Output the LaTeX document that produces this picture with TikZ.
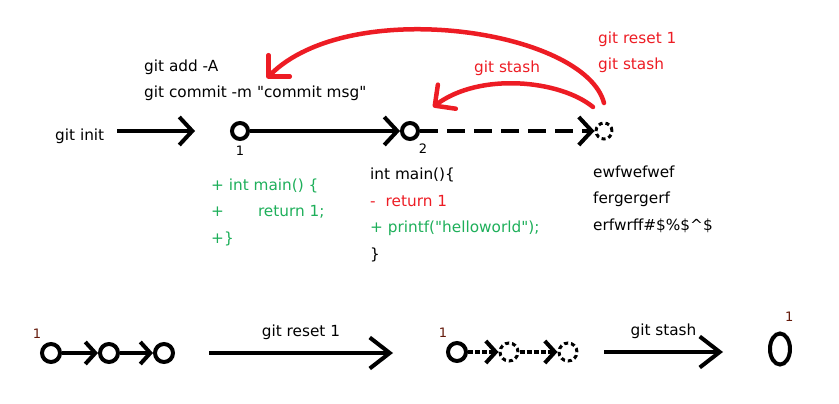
\documentclass[tikz,border=0pt]{standalone}
\usepackage{fontspec}
\setmainfont{DejaVu Sans}[Ligatures=TeXOff]
\usetikzlibrary{arrows.meta,shapes.geometric}
\definecolor{paintred}{RGB}{237,28,36}
\definecolor{addgreen}{RGB}{30,175,90}
\definecolor{numbrown}{RGB}{100,25,10}
\tikzset{
    commit/.style={circle, draw, line width=4pt, minimum size=16pt, inner sep=0pt},
    ghost/.style={commit, line width=3pt, dash pattern=on 4pt off 3pt},
    txt/.style={anchor=base west, inner sep=0pt, align=left,
    	font=\fontsize{15.3}{26.5}\selectfont},
    cmd/.style={inner sep=0pt, font=\fontsize{15.3}{18}\selectfont},
    num/.style={inner sep=0pt, font=\fontsize{13}{13}\selectfont}
}
\tikzset{
    every edge/.append style={line width=4pt}
}
\tikzset{
    barb/.style={-{Straight Barb[length=13pt,width=28pt]}},
    smallbarb/.style={-{Straight Barb[length=10pt,width=22pt]}},
    bigbarb/.style={-{Straight Barb[length=20pt,width=31pt]}},
    redarc/.style={paintred, line width=4.5pt, line cap=round,
    	-{Straight Barb[length=15pt,width=30pt,round]}}
}

\begin{document}
\begin{tikzpicture}[x=1pt, y=-1pt]
	\useasboundingbox (0,0) rectangle (839,404);

	% top row (multi-line texts sit on their last baseline)
	\node (init) [txt] at (55,140) {git init};
	\coordinate (initend) at (195,131);
	\node (1) [commit, label={[num, label distance=5pt]below:{1}}] at (240,131) {};
	\node (2) [commit, label={[num, label distance=5pt]-55:{2}}] at (410,131) {};
	\node (3) [ghost] at (604,131) {};

	\draw (init.east |- 1) edge [barb, shorten <=13pt] (initend);
	\draw (1) edge [barb] (2);
	\draw (2) edge [barb, dash pattern=on 18pt off 9pt] (3);

	\node (add) [txt] at (144,98) {git add -A\\git commit -m "commit msg"};
	\node (diff1) [txt, text=addgreen] at (211,243)
		{+ int main() \{\\+\hspace{34pt}return 1;\\+\}};
	\node (diff2) [txt] at (370,259)
		{int main()\{\\\textcolor{paintred}{-\hspace{10pt}return 1}\\
		\textcolor{addgreen}{+ printf("helloworld");}\\\}};
	\node (work) [txt] at (593,230)
		{ewfwefwef\\fergergerf\\erfwrff\#\$\%\$\textasciicircum\$};

	% red arcs
	\node (redcmd) [txt, text=paintred] at (598,70) {git reset 1\\git stash};
	\node (redstash) [txt, text=paintred] at (474,73) {git stash};
	\coordinate (resetfrom) at (604,103);
	\coordinate (resetto) at (267,78);
	\coordinate (stashfrom) at (593,107);
	\coordinate (stashto) at (433,107);
	\draw [redarc] (resetfrom) .. controls (585,30) and (350,-5) .. (resetto);
	\draw [redarc] (stashfrom) .. controls (560,80) and (480,72) .. (stashto);

	% bottom row
	\node (b1) [commit, minimum size=18pt,
		label={[num, text=numbrown, label distance=6pt]125:{1}}] at (51,353) {};
	\node (b2) [commit, minimum size=18pt] at (109,353) {};
	\node (b3) [commit, minimum size=18pt] at (164,353) {};
	\draw (b1) edge [smallbarb] (b2); \draw (b2) edge [smallbarb] (b3);

	\coordinate (resetstart) at (209,353);
	\coordinate (resetend) at (393,353);
	\draw (resetstart) edge [bigbarb] node [cmd, above=11pt] {git reset 1} (resetend);

	\node (s1) [commit, minimum size=18pt,
		label={[num, text=numbrown, label distance=6pt]125:{1}}] at (457,352) {};
	\node (s2) [ghost, minimum size=18pt] at (509,352) {};
	\node (s3) [ghost, minimum size=18pt] at (568,352) {};
	\draw (s1) edge [smallbarb, dash pattern=on 5pt off 2pt] (s2);
	\draw (s2) edge [smallbarb, dash pattern=on 5pt off 2pt] (s3);

	\coordinate (stashstart) at (604,352);
	\coordinate (stashend) at (723,352);
	\draw (stashstart) edge [bigbarb] node [cmd, above=11pt] {git stash} (stashend);

	\node (e1) [ellipse, draw, line width=4pt, minimum width=20pt, minimum height=31pt,
		inner sep=0pt, label={[num, text=numbrown, label distance=11pt]80:{1}}]
		at (780,349) {};
\end{tikzpicture}
\end{document}
